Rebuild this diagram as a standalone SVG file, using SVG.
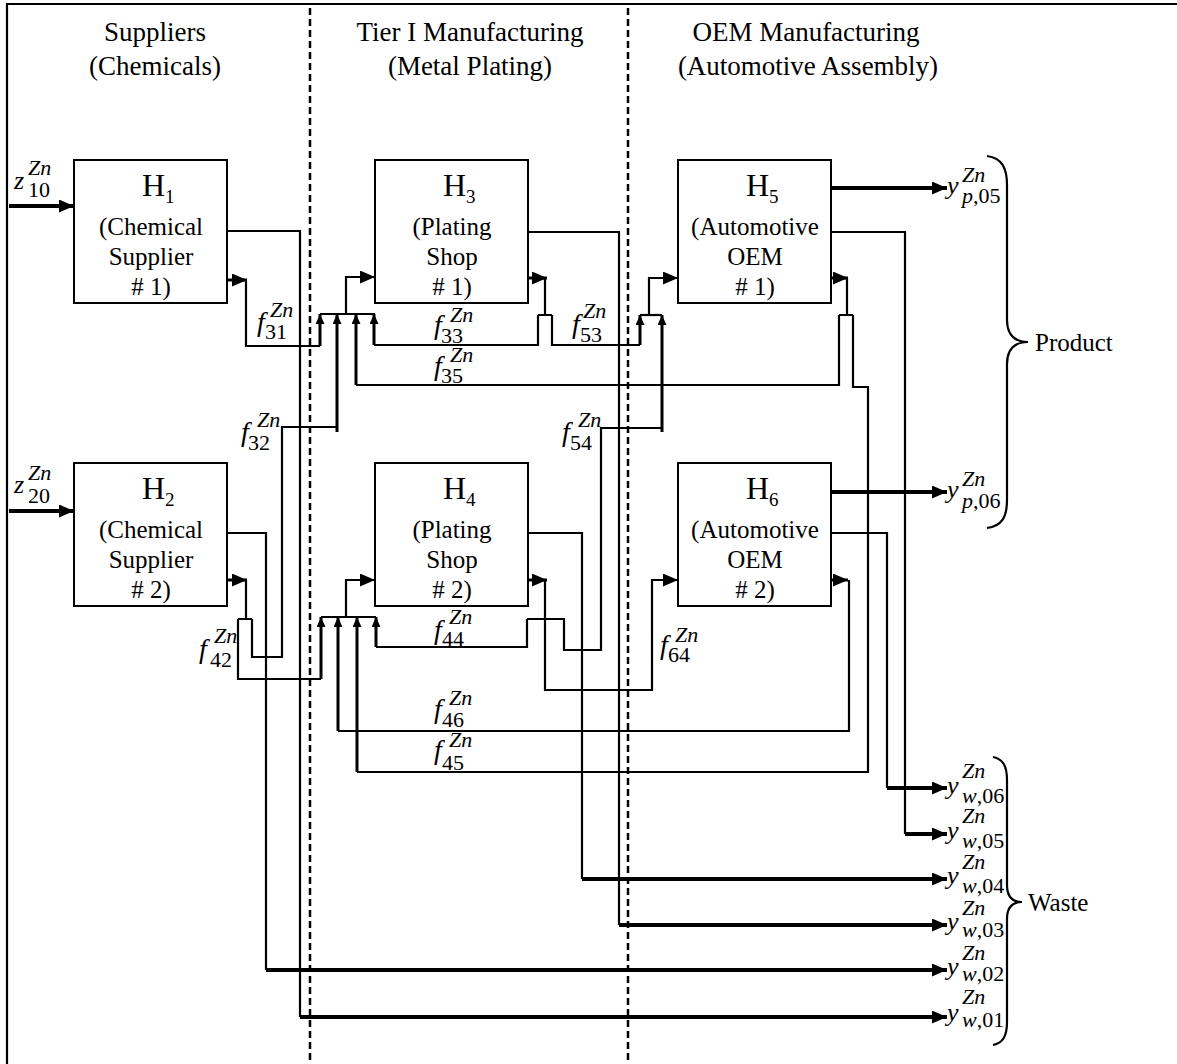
<svg xmlns="http://www.w3.org/2000/svg" width="1177" height="1064" viewBox="0 0 1177 1064">
<style>
.box{fill:#fff;stroke:#000;stroke-width:2}
.c{fill:none;stroke:#000;stroke-width:2.2}
.t{stroke-width:3}
.o{stroke-width:4}
.dash{fill:none;stroke:#000;stroke-width:2.5;stroke-dasharray:7 4}
text{font-family:"Liberation Serif","Times New Roman",serif;fill:#000}
.hd{font-size:27px;text-anchor:middle}
.bx{font-size:25px;text-anchor:middle}
.hn{font-size:32px}
.hs{font-size:19px}
.v{font-size:26px;font-style:italic}
.fv{font-size:28px;font-style:italic}
.ss{font-size:22px}
.i{font-style:italic}
</style>
<defs>
<marker id="A" markerUnits="userSpaceOnUse" markerWidth="16" markerHeight="14" refX="15" refY="6.5" orient="auto"><path d="M0,0 L15,6.5 L0,13 z" fill="#000"/></marker>
<marker id="S" markerUnits="userSpaceOnUse" markerWidth="11" markerHeight="10" refX="10" refY="4.5" orient="auto"><path d="M0,0 L10,4.5 L0,9 z" fill="#000"/></marker>
</defs>
<rect width="1177" height="1064" fill="#fff"/>
<path class="c" d="M7,1064 V4 H1177"/>
<g id="dividers">
<line class="dash" x1="310" y1="8" x2="310" y2="1064"/>
<line class="dash" x1="628" y1="8" x2="628" y2="1064"/>
</g>
<g id="headers">
<text class="hd" x="155" y="41">Suppliers</text>
<text class="hd" x="155" y="75">(Chemicals)</text>
<text class="hd" x="470" y="41">Tier I Manufacturing</text>
<text class="hd" x="470" y="75">(Metal Plating)</text>
<text class="hd" x="806" y="41">OEM Manufacturing</text>
<text class="hd" x="808" y="75">(Automotive Assembly)</text>
</g>
<g id="connectors">
<path class="c o" d="M9,206 H74" marker-end="url(#A)"/>
<path class="c o" d="M9,511 H74" marker-end="url(#A)"/>
<!-- H1 -->
<path class="c" d="M227,231 H300 V1017"/>
<path class="c o" d="M300,1017 H947" marker-end="url(#A)"/>
<path class="c t" d="M227,280 H247" marker-end="url(#A)"/>
<path class="c" d="M246,280 V346 H320"/>
<path class="c t" d="M320,346 V314" marker-end="url(#S)"/>
<!-- H2 -->
<path class="c" d="M227,533 H266 V970"/>
<path class="c o" d="M266,970 H947" marker-end="url(#A)"/>
<path class="c t" d="M227,580 H247" marker-end="url(#A)"/>
<path class="c" d="M246,580 V619 M238,619 H252"/>
<path class="c" d="M252,619 V657 H282 V427 H337"/>
<path class="c t" d="M337,432 V314" marker-end="url(#S)"/>
<path class="c" d="M238,619 V679 H321"/>
<path class="c t" d="M321,679 V617" marker-end="url(#S)"/>
<!-- H3 junction -->
<path class="c" d="M320,314 H375"/>
<path class="c" d="M346,314 V277 H375" marker-end="url(#A)"/>
<!-- H3 -->
<path class="c" d="M528,232 H619 V925"/>
<path class="c o" d="M619,925 H947" marker-end="url(#A)"/>
<path class="c t" d="M528,278 H547" marker-end="url(#A)"/>
<path class="c" d="M545,278 V315 M538,315 H552"/>
<path class="c" d="M538,315 V345 H374"/>
<path class="c t" d="M374,345 V314" marker-end="url(#S)"/>
<path class="c" d="M552,315 V345 H640"/>
<path class="c t" d="M640,345 V315" marker-end="url(#S)"/>
<!-- H5 junction -->
<path class="c" d="M640,315 H662"/>
<path class="c" d="M649,315 V278 H678" marker-end="url(#A)"/>
<!-- H4 -->
<path class="c" d="M528,533 H582 V879"/>
<path class="c o" d="M582,879 H947" marker-end="url(#A)"/>
<path class="c t" d="M528,580 H547" marker-end="url(#A)"/>
<path class="c" d="M545,580 V690 H652 V580 H678" marker-end="url(#A)"/>
<path class="c" d="M527,619 H564 V650 H601 V428 H662"/>
<path class="c t" d="M662,432 V315" marker-end="url(#S)"/>
<path class="c" d="M527,619 V647 H376"/>
<path class="c t" d="M376,647 V617" marker-end="url(#S)"/>
<!-- H4 junction -->
<path class="c" d="M321,617 H376"/>
<path class="c" d="M346,617 V580 H375" marker-end="url(#A)"/>
<!-- H5 -->
<path class="c o" d="M831,188 H947" marker-end="url(#A)"/>
<path class="c" d="M831,232 H905 V834"/>
<path class="c o" d="M905,834 H947" marker-end="url(#A)"/>
<path class="c t" d="M831,278 H848" marker-end="url(#A)"/>
<path class="c" d="M847,278 V315 M839,315 H853"/>
<path class="c" d="M839,315 V385 H356"/>
<path class="c t" d="M356,385 V314" marker-end="url(#S)"/>
<path class="c" d="M853,315 V387 H868 V772 H357"/>
<path class="c t" d="M357,772 V617" marker-end="url(#S)"/>
<!-- H6 -->
<path class="c o" d="M831,492 H947" marker-end="url(#A)"/>
<path class="c" d="M831,533 H887 V788"/>
<path class="c o" d="M887,788 H947" marker-end="url(#A)"/>
<path class="c t" d="M831,580 H848" marker-end="url(#A)"/>
<path class="c" d="M849,580 V731 H338"/>
<path class="c t" d="M338,731 V617" marker-end="url(#S)"/>
</g>
<g id="H1"><rect class="box" x="74" y="160" width="153" height="143"/>
<text class="hn" x="142" y="196">H<tspan class="hs" dy="7">1</tspan></text>
<text class="bx" x="151" y="235">(Chemical</text><text class="bx" x="151" y="265">Supplier</text><text class="bx" x="151" y="295"># 1)</text></g>
<g id="H2"><rect class="box" x="74" y="463" width="153" height="143"/>
<text class="hn" x="142" y="499">H<tspan class="hs" dy="7">2</tspan></text>
<text class="bx" x="151" y="538">(Chemical</text><text class="bx" x="151" y="568">Supplier</text><text class="bx" x="151" y="598"># 2)</text></g>
<g id="H3"><rect class="box" x="375" y="160" width="153" height="143"/>
<text class="hn" x="443" y="196">H<tspan class="hs" dy="7">3</tspan></text>
<text class="bx" x="452" y="235">(Plating</text><text class="bx" x="452" y="265">Shop</text><text class="bx" x="452" y="295"># 1)</text></g>
<g id="H4"><rect class="box" x="375" y="463" width="153" height="143"/>
<text class="hn" x="443" y="499">H<tspan class="hs" dy="7">4</tspan></text>
<text class="bx" x="452" y="538">(Plating</text><text class="bx" x="452" y="568">Shop</text><text class="bx" x="452" y="598"># 2)</text></g>
<g id="H5"><rect class="box" x="678" y="160" width="153" height="143"/>
<text class="hn" x="746" y="196">H<tspan class="hs" dy="7">5</tspan></text>
<text class="bx" x="755" y="235">(Automotive</text><text class="bx" x="755" y="265">OEM</text><text class="bx" x="755" y="295"># 1)</text></g>
<g id="H6"><rect class="box" x="678" y="463" width="153" height="143"/>
<text class="hn" x="746" y="499">H<tspan class="hs" dy="7">6</tspan></text>
<text class="bx" x="755" y="538">(Automotive</text><text class="bx" x="755" y="568">OEM</text><text class="bx" x="755" y="598"># 2)</text></g>
<g id="labels">
<text><tspan class="v" x="14" y="189">z</tspan><tspan class="ss i" x="28" y="175">Zn</tspan><tspan class="ss" x="28" y="197">10</tspan></text>
<text><tspan class="v" x="14" y="493">z</tspan><tspan class="ss i" x="28" y="480">Zn</tspan><tspan class="ss" x="28" y="503">20</tspan></text>
<text><tspan class="fv" x="257" y="331">f</tspan><tspan class="ss i" x="270" y="317">Zn</tspan><tspan class="ss" x="265" y="339">31</tspan></text>
<text><tspan class="fv" x="434" y="334">f</tspan><tspan class="ss i" x="450" y="322">Zn</tspan><tspan class="ss" x="441" y="343">33</tspan></text>
<text><tspan class="fv" x="434" y="375">f</tspan><tspan class="ss i" x="450" y="362">Zn</tspan><tspan class="ss" x="441" y="383">35</tspan></text>
<text><tspan class="fv" x="572" y="333">f</tspan><tspan class="ss i" x="583" y="318">Zn</tspan><tspan class="ss" x="580" y="342">53</tspan></text>
<text><tspan class="fv" x="241" y="441">f</tspan><tspan class="ss i" x="257" y="427">Zn</tspan><tspan class="ss" x="248" y="450">32</tspan></text>
<text><tspan class="fv" x="562" y="441">f</tspan><tspan class="ss i" x="578" y="427">Zn</tspan><tspan class="ss" x="570" y="450">54</tspan></text>
<text><tspan class="fv" x="199" y="658">f</tspan><tspan class="ss i" x="214" y="643">Zn</tspan><tspan class="ss" x="210" y="667">42</tspan></text>
<text><tspan class="fv" x="434" y="639">f</tspan><tspan class="ss i" x="449" y="624">Zn</tspan><tspan class="ss" x="442" y="646">44</tspan></text>
<text><tspan class="fv" x="660" y="654">f</tspan><tspan class="ss i" x="675" y="642">Zn</tspan><tspan class="ss" x="668" y="662">64</tspan></text>
<text><tspan class="fv" x="434" y="718">f</tspan><tspan class="ss i" x="449" y="705">Zn</tspan><tspan class="ss" x="442" y="727">46</tspan></text>
<text><tspan class="fv" x="434" y="759">f</tspan><tspan class="ss i" x="449" y="747">Zn</tspan><tspan class="ss" x="442" y="770">45</tspan></text>
<text><tspan class="v" x="947" y="194">y</tspan><tspan class="ss i" x="962" y="182">Zn</tspan><tspan class="ss" x="962" y="203"><tspan class="i">p</tspan>,05</tspan></text>
<text><tspan class="v" x="947" y="498">y</tspan><tspan class="ss i" x="962" y="486">Zn</tspan><tspan class="ss" x="962" y="508"><tspan class="i">p</tspan>,06</tspan></text>
<text><tspan class="v" x="947" y="794">y</tspan><tspan class="ss i" x="962" y="778">Zn</tspan><tspan class="ss" x="962" y="803"><tspan class="i">w</tspan>,06</tspan></text>
<text><tspan class="v" x="947" y="839">y</tspan><tspan class="ss i" x="962" y="823">Zn</tspan><tspan class="ss" x="962" y="848"><tspan class="i">w</tspan>,05</tspan></text>
<text><tspan class="v" x="947" y="884">y</tspan><tspan class="ss i" x="962" y="869">Zn</tspan><tspan class="ss" x="962" y="893"><tspan class="i">w</tspan>,04</tspan></text>
<text><tspan class="v" x="947" y="930">y</tspan><tspan class="ss i" x="962" y="915">Zn</tspan><tspan class="ss" x="962" y="937"><tspan class="i">w</tspan>,03</tspan></text>
<text><tspan class="v" x="947" y="975">y</tspan><tspan class="ss i" x="962" y="960">Zn</tspan><tspan class="ss" x="962" y="981"><tspan class="i">w</tspan>,02</tspan></text>
<text><tspan class="v" x="947" y="1021">y</tspan><tspan class="ss i" x="962" y="1004">Zn</tspan><tspan class="ss" x="962" y="1027"><tspan class="i">w</tspan>,01</tspan></text>
</g>
<g id="braces">
<path class="c" d="M987,156 C1002,158 1007,168 1007,185 V320 C1007,335 1015,342 1028,342 C1015,342 1007,349 1007,364 V500 C1007,517 1002,526 987,528"/>
<text x="1035" y="351" style="font-size:25px">Product</text>
<path class="c" d="M993,757 C1003,759 1007,766 1007,780 V885 C1007,896 1012,902 1022,902 C1012,902 1007,908 1007,919 V1022 C1007,1036 1003,1043 993,1045"/>
<text x="1028" y="911" style="font-size:25px">Waste</text>
</g>
</svg>
